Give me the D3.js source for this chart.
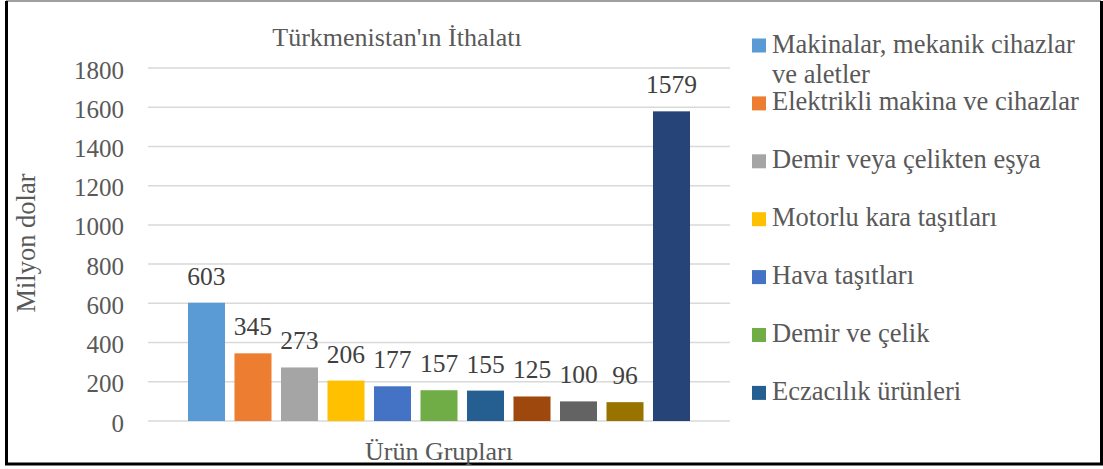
<!DOCTYPE html>
<html>
<head>
<meta charset="utf-8">
<script src="https://cdn.jsdelivr.net/npm/d3@7"></script>
</head>
<body style="margin:0">
<svg id="chart" width="1103" height="469" font-family="Liberation Serif" style="display:block"></svg>
<script>
// ---- data ----
const title = "Türkmenistan'ın İthalatı";
const yAxisTitle = "Milyon dolar";
const xAxisTitle = "Ürün Grupları";
const seriesIds = ["s1","s2","s3","s4","s5","s6","s7","s8","s9","s10","s11"];
const values = [603, 345, 273, 206, 177, 157, 155, 125, 100, 96, 1579];
const colors = ["#5B9BD5","#ED7D31","#A5A5A5","#FFC000","#4472C4","#70AD47","#255E91","#9E480E","#636363","#997300","#264478"];
const legendLabels = [
  "Makinalar, mekanik cihazlar ve aletler",
  "Elektrikli makina ve cihazlar",
  "Demir veya çelikten eşya",
  "Motorlu kara taşıtları",
  "Hava taşıtları",
  "Demir ve çelik",
  "Eczacılık ürünleri"
];
const yTicks = [0, 200, 400, 600, 800, 1000, 1200, 1400, 1600, 1800];

// ---- layout ----
const FONT = "Liberation Serif";
const svg = d3.select("#chart");
const plot = { left: 148, right: 730, top: 68, bottom: 421 };

const x = d3.scaleBand().domain(seriesIds).range([plot.left, plot.right])
  .paddingInner(0.204).paddingOuter(0.86);
const y = d3.scaleLinear().domain([0, 1800]).range([plot.bottom, plot.top]);

// border
svg.append("line").attr("x1", 6).attr("x2", 1101).attr("y1", 1).attr("y2", 1)
  .attr("stroke", "#7f7f7f").attr("stroke-width", 1.5);
svg.append("path")
  .attr("d", `M6.5,1 L6.5,464 L1101.5,464 L1101.5,1`)
  .attr("fill", "none").attr("stroke", "#000").attr("stroke-width", 3);

// gridlines
svg.append("g").selectAll("line").data(yTicks).join("line")
  .attr("x1", plot.left).attr("x2", plot.right)
  .attr("y1", d => y(d)).attr("y2", d => y(d))
  .attr("stroke", "#d9d9d9").attr("stroke-width", 1.5);

// y axis labels
const yAxis = d3.axisLeft(y).tickValues(yTicks).tickSize(0).tickPadding(0).tickFormat(d3.format("d"));
const gy = svg.append("g").attr("transform", `translate(124,0)`).call(yAxis);
gy.attr("font-family", FONT).attr("font-size", 25);
gy.select(".domain").remove();
gy.selectAll("text").attr("fill", "#595959").attr("dy", "0.4em")
  .attr("font-family", FONT).attr("font-size", 25);

// bars
svg.append("g").selectAll("rect").data(values).join("rect")
  .attr("x", (d, i) => x(seriesIds[i]))
  .attr("width", x.bandwidth())
  .attr("y", d => y(d))
  .attr("height", d => y(0) - y(d))
  .attr("fill", (d, i) => colors[i]);

// value labels
svg.append("g").selectAll("text").data(values).join("text")
  .attr("x", (d, i) => x(seriesIds[i]) + x.bandwidth() / 2)
  .attr("y", d => y(d) - 18)
  .attr("text-anchor", "middle")
  .attr("fill", "#404040")
  .attr("font-family", FONT).attr("font-size", 25.5)
  .text(d => d);

// title
svg.append("text").attr("x", 397).attr("y", 46).attr("text-anchor", "middle")
  .attr("fill", "#595959").attr("font-family", FONT).attr("font-size", 26).text(title);

// axis titles
svg.append("text").attr("transform", `translate(35,243) rotate(-90)`)
  .attr("text-anchor", "middle").attr("fill", "#595959")
  .attr("font-family", FONT).attr("font-size", 26.5).text(yAxisTitle);
svg.append("text").attr("x", 439).attr("y", 460).attr("text-anchor", "middle")
  .attr("fill", "#595959").attr("font-family", FONT).attr("font-size", 26).text(xAxisTitle);

// legend
const lg = svg.append("g");
const legendX = 752, textX = 772, maxW = 318;
legendLabels.forEach((lab, i) => {
  const yb = 52.5 + i * 57.9;
  lg.append("rect").attr("x", legendX).attr("y", yb - 14).attr("width", 14).attr("height", 14)
    .attr("fill", colors[i]);
  const t = lg.append("text").attr("x", textX).attr("y", yb)
    .attr("fill", "#595959").attr("font-family", FONT).attr("font-size", 26.5);
  const words = lab.split(" ");
  let line = [], tspan = t.append("tspan").attr("x", textX).attr("dy", 0);
  words.forEach(w => {
    line.push(w);
    tspan.text(line.join(" "));
    if (tspan.node().getComputedTextLength() > maxW && line.length > 1) {
      line.pop();
      tspan.text(line.join(" "));
      line = [w];
      tspan = t.append("tspan").attr("x", textX).attr("dy", 30).text(w);
    }
  });
});
</script>
</body>
</html>
